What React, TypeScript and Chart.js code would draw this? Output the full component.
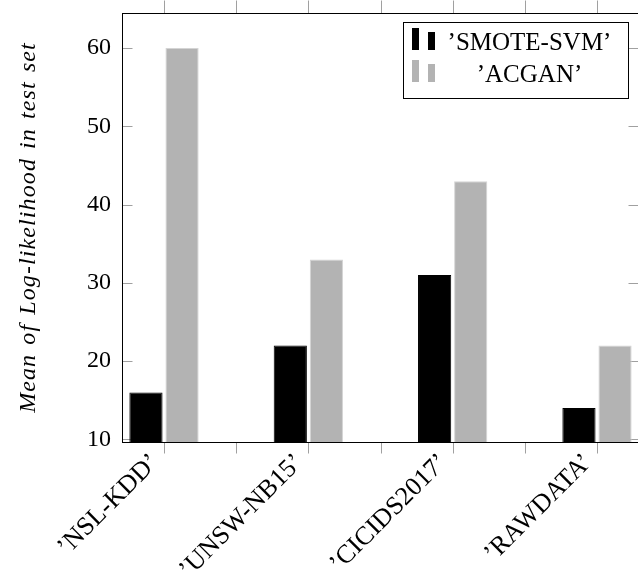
import React, { useEffect, useRef } from 'react';
import { Chart, registerables } from 'chart.js';

Chart.register(...registerables);

// ---- data ----
const categories = ['\u2019NSL-KDD\u2019', '\u2019UNSW-NB15\u2019', '\u2019CICIDS2017\u2019', '\u2019RAWDATA\u2019'];
const seriesNames = ['\u2019SMOTE-SVM\u2019', '\u2019ACGAN\u2019'];
const smoteSvm = [16, 22, 31, 14];
const acgan = [60, 33, 43, 22];
const yTicks = [10, 20, 30, 40, 50, 60];
const yTitle = 'Mean of Log-likelihood in test set';

const FONT = "'Liberation Serif', 'Times New Roman', serif";
const TICK_GRAY = '#a0a0a0';
const BLACK_FILL = '#000000';
const GRAY_FILL = '#b3b3b3';
const GRAY_EDGE = '#d4d4d4';

// categories sit on every second slot of the x axis; slots in between are blank
const slotOf = (i: number) => i * 2;
const slotCount = categories.length * 2 - 1;

const zeroPad = (s: any) => {
  s.paddingTop = 0;
  s.paddingBottom = 0;
  s.paddingLeft = 0;
  s.paddingRight = 0;
};

const decorPlugin = {
  id: 'decor',
  beforeDatasetsDraw(chart: any) {
    const { ctx, chartArea: a, scales } = chart;
    const x = scales.x;
    const y = scales.y;
    ctx.save();
    ctx.strokeStyle = TICK_GRAY;
    ctx.lineWidth = 1;
    ctx.beginPath();
    const L = Math.round(a.left) + 0.5;
    const R = Math.round(a.right) - 0.5;
    const T = Math.round(a.top) + 0.5;
    const B = Math.round(a.bottom) - 0.5;
    y.ticks.forEach((t: any) => {
      const py = Math.round(y.getPixelForValue(t.value)) + 0.5;
      ctx.moveTo(L, py);
      ctx.lineTo(L + 10, py);
      ctx.moveTo(R, py);
      ctx.lineTo(R - 10, py);
    });
    x.ticks.forEach((t: any) => {
      const px = Math.round(x.getPixelForValue(t.value)) + 0.5;
      ctx.moveTo(px, B);
      ctx.lineTo(px, B + 11);
      ctx.moveTo(px, T);
      ctx.lineTo(px, T - 13);
    });
    ctx.stroke();
    ctx.restore();
  },
  afterDatasetsDraw(chart: any) {
    const { ctx, chartArea: a } = chart;
    ctx.save();
    ctx.strokeStyle = '#000';
    ctx.lineWidth = 1;
    const L = Math.round(a.left) + 0.5;
    const R = Math.round(a.right) - 0.5;
    const T = Math.round(a.top) + 0.5;
    const B = Math.round(a.bottom) - 0.5;
    ctx.strokeRect(L, T, R - L, B - T);
    ctx.restore();
  },
  afterDraw(chart: any) {
    const { ctx, chartArea: a } = chart;
    // y-axis title (drawn here so its LaTeX-like spacing can be matched)
    ctx.save();
    ctx.translate(35, (a.top + a.bottom) / 2);
    ctx.rotate(-Math.PI / 2);
    ctx.font = `italic 24px ${FONT}`;
    (ctx as any).letterSpacing = '1.1px';
    (ctx as any).wordSpacing = '2px';
    ctx.fillStyle = '#000';
    ctx.textAlign = 'center';
    ctx.textBaseline = 'alphabetic';
    ctx.fillText(yTitle, 0, 0);
    ctx.restore();

    // legend
    const w = 225;
    const h = 76;
    const bx = Math.round(a.right - 11 - w) + 0.5;
    const by = Math.round(a.top + 9.5) + 0.5;
    ctx.save();
    ctx.fillStyle = '#fff';
    ctx.fillRect(bx, by, w, h);
    ctx.strokeStyle = '#000';
    ctx.lineWidth = 1;
    ctx.strokeRect(bx, by, w, h);
    chart.data.datasets.forEach((ds: any, i: number) => {
      const base = by + 27.5 + i * 32;
      ctx.fillStyle = ds.backgroundColor;
      ctx.fillRect(bx + 8.5, base - 22, 7, 22);
      ctx.fillRect(bx + 24.5, base - 18, 7, 18);
      ctx.fillStyle = '#000';
      ctx.font = `25px ${FONT}`;
      ctx.textAlign = 'center';
      ctx.textBaseline = 'alphabetic';
      ctx.fillText(ds.label, bx + 126, base);
    });
    ctx.restore();
  },
};

export default function App() {
  const ref = useRef<HTMLCanvasElement | null>(null);

  useEffect(() => {
    if (!ref.current) return;
    const chart = new Chart(ref.current, {
      type: 'bar',
      data: {
        datasets: [
          {
            label: seriesNames[0],
            data: categories.map((_, i) => ({ x: slotOf(i), y: smoteSvm[i] })),
            backgroundColor: BLACK_FILL,
            borderColor: BLACK_FILL,
            borderWidth: 1,
            categoryPercentage: 1,
            barPercentage: 0.92,
          },
          {
            label: seriesNames[1],
            data: categories.map((_, i) => ({ x: slotOf(i), y: acgan[i] })),
            backgroundColor: GRAY_FILL,
            borderColor: GRAY_EDGE,
            borderWidth: 1,
            categoryPercentage: 1,
            barPercentage: 0.92,
          },
        ],
      },
      options: {
        animation: false,
        responsive: false,
        layout: { padding: { left: 0, top: 12.5, right: 21, bottom: 0 } },
        plugins: { legend: { display: false }, tooltip: { enabled: false } },
        scales: {
          x: {
            type: 'linear',
            offset: false,
            min: -0.582,
            max: slotCount - 1 + 0.582,
            grid: { display: false, drawTicks: false, offset: false },
            border: { display: false },
            afterBuildTicks: (s: any) => {
              s.ticks = Array.from({ length: slotCount }, (_, k) => ({ value: k }));
            },
            afterFit: (s: any) => {
              s.height = 131.5;
              zeroPad(s);
            },
            ticks: {
              autoSkip: false,
              minRotation: 45,
              maxRotation: 45,
              padding: 5,
              labelOffset: -9,
              color: '#000',
              font: { family: FONT, size: 26 },
              callback: (v: any) => (Number(v) % 2 === 0 ? categories[Number(v) / 2] : ''),
            },
          },
          y: {
            min: 9.6,
            max: 64.55,
            grid: { display: false, drawTicks: false },
            border: { display: false },
            afterBuildTicks: (s: any) => {
              s.ticks = yTicks.map((v) => ({ value: v }));
            },
            afterFit: (s: any) => {
              s.width = 122;
              zeroPad(s);
            },
            ticks: {
              padding: 11,
              color: '#000',
              font: { family: FONT, size: 24 },
            },
            title: { display: false },
          },
        },
      },
      plugins: [decorPlugin],
    });
    return () => chart.destroy();
  }, []);

  return (
    <div style={{ position: 'fixed', left: 0, top: 0, width: 638, height: 574, overflow: 'hidden', background: '#fff' }}>
      <canvas ref={ref} width={660} height={574} style={{ display: 'block', width: 660, height: 574 }} />
    </div>
  );
}
